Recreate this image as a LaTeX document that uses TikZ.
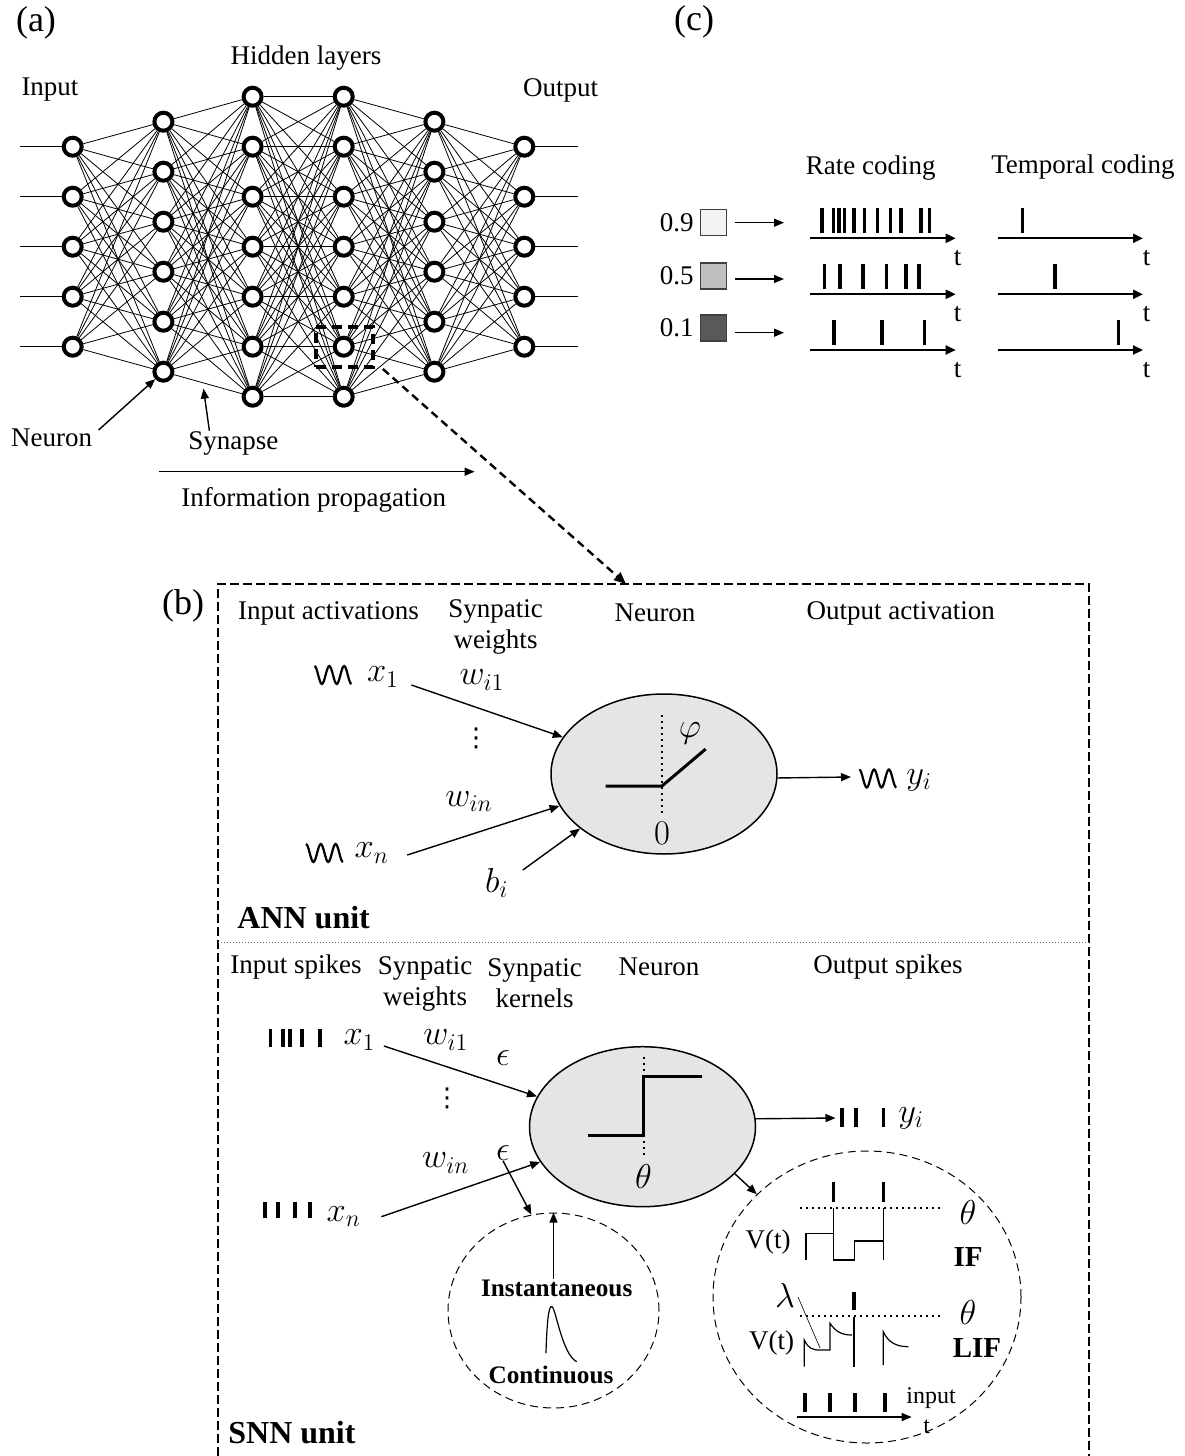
\documentclass[tikz,border=0pt]{standalone}
\usepackage{fontspec}
\setmainfont{Liberation Serif}
\newfontfamily\symfont{DejaVu Sans}
\usetikzlibrary{arrows.meta,shapes.geometric,calc}

\begin{document}
\begin{tikzpicture}[
  x=0.5pt, y=-0.5pt,
  every node/.style={font=\fontsize{13.5}{15.5}\selectfont, inner sep=0pt},
  lbl/.style={align=center},
  big/.style={font=\fontsize{18}{20}\selectfont},
  mth/.style={font=\fontsize{17}{20}\selectfont},
  dots/.style={font=\fontsize{13}{13}\selectfont\symfont},
  unitlbl/.style={font=\fontsize{16}{18}\selectfont\bfseries, anchor=west},
  kbold/.style={font=\fontsize{12.6}{14}\selectfont\bfseries},
  neuron/.style={circle, draw, line width=2pt, fill=white, minimum size=9pt},
  synapse/.style={line width=0.4pt},
  arrow/.style={-{Triangle[length=5pt,width=4pt]}, line width=0.7pt},
  taxis/.style={-{Triangle[length=5pt,width=4.5pt]}, line width=1pt},
  spike/.style={line width=1.6pt},
  cell/.style={ellipse, draw, line width=0.75pt, fill=black!10,
    minimum width=113pt, minimum height=80pt},
  zoomcirc/.style={ellipse, draw, line width=0.5pt, dash pattern=on 4pt off 2.5pt},
  level/.style={draw=black!75, line width=0.6pt, minimum size=13pt},
  thr/.style={dotted, line width=1pt},
  trace/.style={line width=0.6pt},
  wave/.pic={\draw[line width=1.1pt] plot[domain=0:5, samples=41, smooth]
    ({-18.5+7.4*\x},{-9*cos(180*\x)});}
]
\useasboundingbox (0,0) rectangle (1184,1456);

\node[big] (pa) at (36,23) {(a)};
\node (hid) at (306,58) {Hidden layers};
\node (inl) at (50,90) {Input};
\node (outl) at (560.6,90) {Output};

\foreach \c/\n/\y [count=\i] in {72.7/5/146.7, 163.4/6/121.7, 252.6/7/96.7,
    343.7/7/96.7, 434.4/6/121.7, 524.3/5/146.7}
  \foreach \r in {1,...,\n}
    \node[neuron] (n\i-\r) at ({\c},{\y+50*(\r-1)}) {};

\foreach \i/\m/\j/\n in {1/5/2/6, 2/6/3/7, 3/7/4/7, 4/7/5/6, 5/6/6/5}
  \foreach \a in {1,...,\m}
    \foreach \b in {1,...,\n}
      \draw[synapse] (n\i-\a) -- (n\j-\b);

\foreach \r in {1,...,5} {
  \draw[synapse] (n1-\r.west) -- ++(-42,0);
  \draw[synapse] (n6-\r.east) -- ++(43,0);
}

\node[draw, line width=2pt, dash pattern=on 5pt off 3pt,
  minimum width=28.5pt, minimum height=20pt] (zb) at (344.4,347) {};

\node (nlbl) at (51.7,438) {Neuron};
\node (slbl) at (233.4,443) {Synapse};
\draw[arrow] ([shift={(6,-8)}]nlbl.east) -- (n2-6);
\coordinate (syn) at ($(n2-6)!0.44!(n3-7)$);
\draw[arrow, shorten >=3pt] ([xshift=-12pt]slbl.north) -- (syn);

\coordinate (ip1) at (158.8,471.7);
\coordinate (ip2) at (474.6,471.7);
\draw[arrow] (ip1) -- (ip2);
\node (ipl) at (313.8,500) {Information propagation};

\node[big] (pc) at (694,22) {(c)};
\node (rate) at (870.8,168.3) {Rate coding};
\node (temp) at (1083,166.7) {Temporal coding};

\foreach \v/\y/\ay/\g [count=\k] in {0.9/222.5/222.7/black!5,
    0.5/276/279/black!25, 0.1/328/332.7/black!65} {
  \node[level, fill=\g] (sq\k) at (713.3,\y) {};
  \node[anchor=east] (v\k) at (694,\y) {\v};
  \coordinate (ae\k) at (784,\ay);
  \draw[arrow] (sq\k.east |- ae\k) ++(8,0) -- (ae\k);
}

\foreach \y [count=\k] in {238.3, 294.3, 350} {
  \coordinate (ra\k) at (810,\y);
  \coordinate (rb\k) at (955.7,\y);
  \draw[taxis] (ra\k) -- (rb\k);
  \node (rt\k) at (957.5,\y+20) {t};
  \coordinate (ta\k) at (997.8,\y);
  \coordinate (tb\k) at (1143,\y);
  \draw[taxis] (ta\k) -- (tb\k);
  \node (tt\k) at (1146.7,\y+20) {t};
}
\foreach \s in {822, 833.5, 839, 844.7, 854, 864.4, 877.5, 890.5, 901, 921, 929.6}
  \draw[spike] (\s,208) -- (\s,233);
\foreach \s in {824.6, 840, 863, 886.8, 906, 919}
  \draw[spike] (\s,264) -- (\s,289);
\foreach \s in {834, 882, 924.8}
  \draw[spike] (\s,320) -- (\s,345);
\draw[spike] (1022.7,208) -- (1022.7,233);
\draw[spike] (1055,264) -- (1055,289);
\draw[spike] (1118.8,320) -- (1118.8,345);

\coordinate (btop) at (626,584);
\draw[line width=1.2pt, dash pattern=on 4.5pt off 2pt]
  (218,1456) -- (218,584) -- (1089,584) -- (1089,1456);
\draw[-{Triangle[length=6pt,width=5pt]}, line width=1.2pt, dash pattern=on 4pt off 2.5pt]
  ([xshift=4pt]zb.south east) -- (btop);
\node[big] (pb) at (183,606) {(b)};

\node (h1) at (328.5,613) {Input activations};
\node[lbl] (h2) at (495.5,626.7) {Synpatic\\weights};
\node (h3) at (655,613) {Neuron};
\node (h4) at (900.8,613) {Output activation};

\node[cell] (ann) at (664,774) {};
\draw[thr] (662,715) -- (662,813);
\draw[line width=1.5pt] (605.7,786) -- (662,786) -- (705.7,749);
\node[mth] (phi) at (690,733) {$\varphi$};
\node[mth] (zero) at (662,833) {$0$};

\pic at (333,675) {wave};
\node[mth] (x1) at (383,677) {$x_1$};
\node[mth] (w1) at (482,680) {$w_{i1}$};
\node[dots] (vd) at (476,738) {⋮};
\draw[arrow] ([shift={(12,8)}]x1.east) -- (ann.160);

\pic at (324.5,853) {wave};
\node[mth] (xn) at (371.7,853) {$x_n$};
\node[mth] (wn) at (469,801.7) {$w_{in}$};
\draw[arrow] ([shift={(18,2)}]xn.east) -- (ann.197);
\node[mth] (bi) at (496.7,883) {$b_i$};
\draw[arrow] ([shift={(14,2)}]bi.north east) -- (ann.213);

\coordinate (yo) at (851,777);
\draw[arrow] (ann.358) -- (yo);
\pic at (877.8,778.5) {wave};
\node[mth] (yi) at (919,780) {$y_i$};
\node[unitlbl] (annl) at (237,918) {ANN unit};

\draw[densely dotted, black!60, line width=0.5pt] (218,942.3) -- (1089,942.3);

\node (s1) at (296,967) {Input spikes};
\node[lbl] (s2) at (425,983.5) {Synpatic\\weights};
\node[lbl] (s3) at (534.7,983.5) {Synpatic\\kernels};
\node (s4) at (659,967) {Neuron};
\node (s5) at (888,967) {Output spikes};

\node[cell] (snn) at (642.5,1126.7) {};
\draw[thr] (643.5,1056.7) -- (643.5,1156.7);
\draw[line width=1.5pt] (588,1135) -- (643.5,1135) -- (643.5,1076) -- (702,1076);
\node[mth] (th) at (643.5,1176.7) {$\theta$};

\foreach \s in {270.5, 283, 290, 302, 320}
  \draw[spike, line width=1.8pt] (\s,1029) -- (\s,1047);
\node[mth] (sx1) at (359.5,1040) {$x_1$};
\node[mth] (sw1) at (445.8,1040) {$w_{i1}$};
\node[mth] (e1) at (503,1058) {$\epsilon$};
\node[dots] (svd) at (447,1098) {⋮};
\draw[arrow] ([shift={(8,6)}]sx1.east) -- (snn.164);

\foreach \s in {265, 278, 295, 310}
  \draw[spike, line width=1.8pt] (\s,1201.7) -- (\s,1218);
\node[mth] (sxn) at (343.8,1216.7) {$x_n$};
\node[mth] (swn) at (445.8,1163) {$w_{in}$};
\node[mth] (e2) at (503,1153) {$\epsilon$};
\draw[arrow] ([shift={(20,0)}]sxn.east) -- (snn.199);

\coordinate (so) at (835.5,1118);
\draw[arrow] (snn.4) -- (so);
\foreach \s in {842, 856, 883.5}
  \draw[spike, line width=1.8pt] (\s,1108) -- (\s,1127);
\node[mth] (syi) at (911,1118) {$y_i$};

\node[zoomcirc, minimum width=105.5pt, minimum height=97.5pt] (kern) at (553.5,1310.5) {};
\draw[arrow] (e2.south) -- (kern.103);
\node[kbold] (inst) at (556.7,1288) {Instantaneous};
\draw[arrow] (inst.north -| kern.north) -- (kern.north);
\draw[trace] (546,1353) .. controls (547,1318) and (549,1305) .. (552,1306.7)
  .. controls (556,1309) and (562,1354) .. (576.7,1361.7);
\node[kbold] (cont) at (551,1375) {Continuous};

\node[zoomcirc, minimum width=154pt, minimum height=146pt] (spk) at (867,1297) {};
\draw[arrow] (snn.333) -- (spk.137);

\draw[thr] (800,1208.3) -- (940,1208.3);
\foreach \s in {833.5, 883.5}
  \draw[spike] (\s,1182) -- (\s,1202);
\draw[trace] (806,1260) -- (806,1233.3) -- (833.3,1233.3);
\draw[trace] (833.3,1208.3) -- (833.3,1260) -- (854.3,1260) -- (854.3,1241) -- (883.3,1241);
\draw[trace] (883.3,1208.3) -- (883.3,1260);
\node (vt1) at (768,1242) {V(t)};
\node[mth] (th1) at (968,1212) {$\theta$};
\node[kbold, font=\fontsize{14.5}{16}\selectfont\bfseries] (if) at (968,1257) {IF};

\draw[thr] (800,1316) -- (940,1316);
\draw[spike] (854,1292) -- (854,1310);
\draw[trace] (804.3,1366.7) -- (804.3,1340) .. controls (808,1348) and (812,1350) .. (820,1350)
  -- (830,1350) -- (830,1323.3) .. controls (836,1332) and (842,1335) .. (852,1335);
\draw[trace] (854,1316.7) -- (854,1366.7);
\draw[trace] (883.3,1365) -- (883.3,1331.7) .. controls (888,1342) and (896,1346.7) .. (908.3,1346.7);
\node[mth] (lam) at (785,1295) {$\lambda$};
\draw[line width=0.3pt] (798,1297) -- (820,1348);
\node (vt2) at (771.7,1343) {V(t)};
\node[mth] (th2) at (968,1312) {$\theta$};
\node[kbold, font=\fontsize{14.5}{16}\selectfont\bfseries] (lif) at (977,1348) {LIF};

\foreach \s in {805, 830, 855, 885}
  \draw[spike, line width=2pt] (\s,1393) -- (\s,1412);
\coordinate (ia) at (796.7,1417);
\coordinate (ib) at (911.7,1417);
\draw[arrow] (ia) -- (ib);
\node[font=\fontsize{12}{13}\selectfont] (inp) at (931,1398) {input};
\node[font=\fontsize{12}{13}\selectfont] (it) at (926.7,1427) {t};

\node[unitlbl] (snnl) at (228,1433) {SNN unit};
\end{tikzpicture}
\end{document}
